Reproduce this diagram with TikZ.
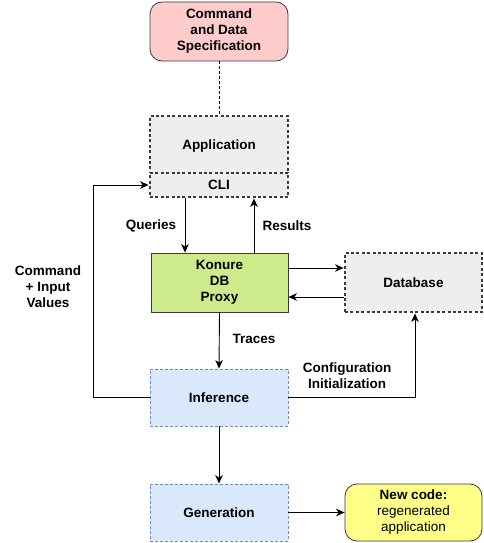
\documentclass[tikz,border=0pt]{standalone}
\usepackage{fontspec}
\setmainfont{Liberation Sans}
\usetikzlibrary{arrows.meta}
\definecolor{pinkf}{HTML}{FFCCCC}
\definecolor{yelf}{HTML}{FFFF88}
\definecolor{greenf}{HTML}{CDEB8B}
\definecolor{bluef}{HTML}{DAE8FC}
\definecolor{blued}{HTML}{6C8EBF}
\definecolor{grayf}{HTML}{EEEEEE}
\definecolor{dk}{HTML}{36393D}
\definecolor{dotc}{HTML}{3A3A3A}
\tikzset{
  base/.style={inner sep=0pt, align=center, font=\fontsize{13.5}{16}\selectfont\bfseries},
  one/.style={text height=9.7pt, text depth=0pt},
  rbox/.style={base, draw=dk, line width=0.8pt, rounded corners=12pt},
  dotbox/.style={base, draw=dotc, fill=grayf, line width=2.8pt, dash pattern=on 3pt off 2.4pt},
  greenbox/.style={base, draw=dk, fill=greenf, line width=0.8pt},
  bluebox/.style={base, draw=blued, fill=bluef, line width=0.8pt, dash pattern=on 3pt off 2pt},
  lbl/.style={base},
  arr/.style={-{Stealth[length=8.5pt,width=7.5pt,inset=2.5pt]}, line width=0.9pt},
  conn/.style={line width=0.9pt}
}
\begin{document}
\begin{tikzpicture}[x=1pt,y=-1pt]
\useasboundingbox (0,0) rectangle (483,543);
\node[rbox, fill=pinkf, minimum width=138pt, minimum height=59pt] (cmd) at (219,31.5) {Command\\and Data\\Specification};
\node[dotbox, one, minimum width=138pt, minimum height=57pt] (app) at (219,144.5) {Application};
\node[dotbox, one, minimum width=138pt, minimum height=24pt] (cli) at (219,185) {CLI};
\node[greenbox, minimum width=137pt, minimum height=59pt] (kon) at (219.5,282.5) {Konure\\DB\\Proxy};
\node[dotbox, one, minimum width=137pt, minimum height=59pt] (db) at (413.5,282.5) {Database};
\node[bluebox, one, minimum width=138pt, minimum height=57pt] (inf) at (219,397.5) {Inference};
\node[bluebox, one, minimum width=138pt, minimum height=57pt] (gen) at (219,512.5) {Generation};
\node[rbox, fill=yelf, minimum width=137pt, minimum height=57pt] (new) at (413.5,512.5) {New code:\\\mdseries regenerated\\\mdseries application};

\coordinate (lc) at (93,185);

\draw[conn, dash pattern=on 3pt off 2pt] (cmd.south) -- (app.north);
\draw[arr] ([xshift=-34pt]cli.south) -- ([xshift=-34.5pt]kon.north);
\draw[arr] ([xshift=34.5pt]kon.north) -- ([xshift=35pt]cli.south);
\draw[arr] ([yshift=14.5pt]kon.east) -- ([yshift=14.5pt]db.west);
\draw[arr] ([yshift=-14.5pt]db.west) -- ([yshift=-14.5pt]kon.east);
\draw[arr] (kon.south) -- (inf.north);
\draw[arr] (inf.west) -| (lc) -- (cli.west);
\draw[arr] (inf.east) -| ([xshift=1.5pt]db.south);
\draw[arr] (inf.south) -- (gen.north);
\draw[arr] (gen.east) -- (new.west);

\node[lbl] (lq) at (151,226) {Queries};
\node[lbl] (lr) at (287,226) {Results};
\node[lbl] (lcmd) at (48,287) {Command\\+ Input\\Values};
\node[lbl] (lt) at (254,339) {Traces};
\node[lbl] (lci) at (347,376) {Configuration\\Initialization};
\end{tikzpicture}
\end{document}
